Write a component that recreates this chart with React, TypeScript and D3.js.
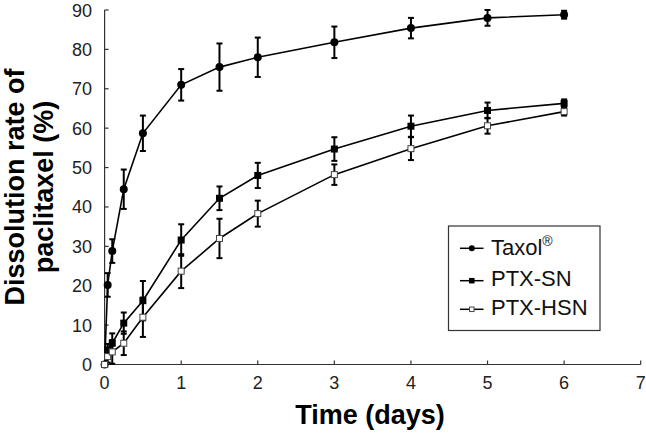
import React from "react";
import * as d3 from "d3";

const times = [0, 0.04, 0.1, 0.25, 0.5, 1, 1.5, 2, 3, 4, 5, 6];
const taxol = [0, 20.2, 28.8, 44.5, 58.7, 71, 75.5, 78, 81.8, 85.4, 88, 88.8];
const taxolErr = [0, 3, 3, 5, 4.5, 4, 6, 5, 4, 2.6, 2, 1];
const ptxSN = [0, 3.7, 5.4, 10.5, 16.2, 31.6, 42.2, 48, 54.7, 60.5, 64.5, 66.3];
const ptxSNErr = [0, 1.5, 2.5, 2.7, 5, 4, 3, 3.2, 3, 2.7, 2, 1];
const ptxHSN = [0, 2, 3.2, 5.4, 12, 23.7, 32, 38.3, 48.2, 54.8, 60.6, 64.2];
const ptxHSNErr = [0, 1.5, 3, 3, 5, 4.3, 5, 3.3, 2.6, 2.9, 2, 1];
const seriesNames = ["Taxol", "PTX-SN", "PTX-HSN"];
const xTicks = [0, 1, 2, 3, 4, 5, 6, 7];
const yTicks = [0, 10, 20, 30, 40, 50, 60, 70, 80, 90];

const W = 646;
const H = 434;
const font = "Arial, 'Liberation Sans', Helvetica, sans-serif";

export default function App() {
  const x = d3.scaleLinear().domain([0, 7]).range([104.6, 640.7]);
  const y = d3.scaleLinear().domain([0, 90]).range([364.5, 10]);
  const line = d3
    .line<[number, number]>()
    .x((d) => x(d[0]))
    .y((d) => y(d[1]));

  const series = [
    { name: seriesNames[0], vals: taxol, err: taxolErr, marker: "circle" },
    { name: seriesNames[1], vals: ptxSN, err: ptxSNErr, marker: "filled" },
    { name: seriesNames[2], vals: ptxHSN, err: ptxHSNErr, marker: "open" },
  ];

  const marker = (kind: string, cx: number, cy: number, size: number, key: any) => {
    if (kind === "circle")
      return <circle key={key} cx={cx} cy={cy} r={size / 2} fill="#000" />;
    if (kind === "filled")
      return (
        <rect key={key} x={cx - size / 2} y={cy - size / 2} width={size} height={size} fill="#000" />
      );
    return (
      <rect
        key={key}
        x={cx - size / 2 + 0.5}
        y={cy - size / 2 + 0.5}
        width={size - 1}
        height={size - 1}
        fill="#fff"
        stroke="#444"
        strokeWidth={1}
      />
    );
  };

  const legendY = [248.3, 280.7, 309.3];
  const legendBase = [255, 286, 315];

  return (
    <svg
      width={W}
      height={H}
      style={{ position: "absolute", left: 0, top: 0, background: "#fff" }}
      fontFamily={font}
    >
      <rect width={W} height={H} fill="#fff" />
      {/* axes */}
      <line x1={x(0)} x2={x(7)} y1={y(0)} y2={y(0)} stroke="#333" strokeWidth={1.2} />
      <line x1={x(0)} x2={x(0)} y1={y(0)} y2={y(90)} stroke="#333" strokeWidth={1.2} />
      {xTicks.map((t) => (
        <g key={"xt" + t}>
          <line x1={x(t)} x2={x(t)} y1={y(0)} y2={y(0) - 4} stroke="#333" strokeWidth={1.2} />
          <text x={x(t)} y={389} textAnchor="middle" fontSize={18} fill="#222">
            {t}
          </text>
        </g>
      ))}
      {yTicks.map((t) => (
        <g key={"yt" + t}>
          <line x1={x(0)} x2={x(0) + 4} y1={y(t)} y2={y(t)} stroke="#333" strokeWidth={1.2} />
          <text x={92} y={y(t) + 6.5} textAnchor="end" fontSize={18} fill="#222">
            {t}
          </text>
        </g>
      ))}
      {/* axis titles */}
      <text x={370} y={424} textAnchor="middle" fontSize={27} fontWeight="bold" fill="#000">
        Time (days)
      </text>
      <g transform="translate(24,187) rotate(-90)">
        <text x={0} y={0} textAnchor="middle" fontSize={27} fontWeight="bold" fill="#000">
          Dissolution rate of
        </text>
        <text x={0} y={29} textAnchor="middle" fontSize={27} fontWeight="bold" fill="#000">
          paclitaxel (%)
        </text>
      </g>
      {/* series */}
      {series.map((s, si) => {
        const pts = times.map((t, i) => [t, s.vals[i]] as [number, number]);
        return (
          <g key={"s" + si}>
            <path d={line(pts) || ""} fill="none" stroke="#000" strokeWidth={1.6} />
            {pts.map((p, i) =>
              s.err[i] > 0 ? (
                <g key={"e" + i} stroke="#000" strokeWidth={2}>
                  <line x1={x(p[0])} x2={x(p[0])} y1={y(p[1] - s.err[i])} y2={y(p[1] + s.err[i])} />
                  <line x1={x(p[0]) - 3} x2={x(p[0]) + 3} y1={y(p[1] - s.err[i])} y2={y(p[1] - s.err[i])} />
                  <line x1={x(p[0]) - 3} x2={x(p[0]) + 3} y1={y(p[1] + s.err[i])} y2={y(p[1] + s.err[i])} />
                </g>
              ) : null
            )}
            {pts.map((p, i) => marker(s.marker, x(p[0]), y(p[1]), s.marker === "circle" ? 8 : 7, "m" + i))}
          </g>
        );
      })}
      {/* legend */}
      <rect x={448.5} y={226} width={151.5} height={104.5} fill="#fff" stroke="#333" strokeWidth={1.2} />
      {series.map((s, i) => (
        <g key={"lg" + i}>
          <line x1={460} x2={483.5} y1={legendY[i]} y2={legendY[i]} stroke="#000" strokeWidth={1.5} />
          {marker(s.marker, 471.8, legendY[i], s.marker === "circle" ? 6 : 5.5, "lm" + i)}
          <text x={491} y={legendBase[i]} fontSize={22} fill="#111">
            {s.name}
            {i === 0 ? (
              <tspan fontSize={14} dy={-9}>
                ®
              </tspan>
            ) : null}
          </text>
        </g>
      ))}
    </svg>
  );
}
